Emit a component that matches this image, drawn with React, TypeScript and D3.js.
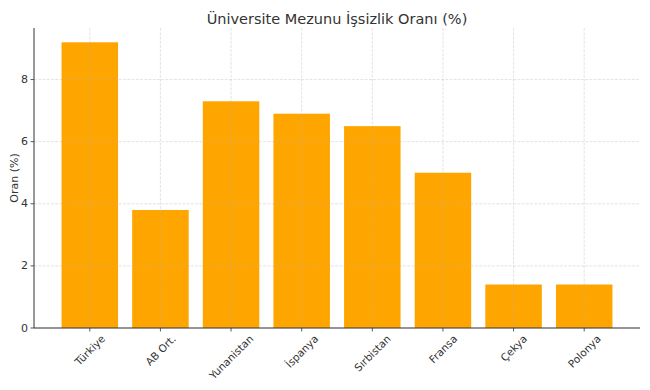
import React, { useEffect, useRef } from "react";
import * as d3 from "d3";

const categories: string[] = ["Türkiye", "AB Ort.", "Yunanistan", "İspanya", "Sırbistan", "Fransa", "Çekya", "Polonya"];
const values: number[] = [9.2, 3.8, 7.3, 6.9, 6.5, 5.0, 1.4, 1.4];
const yTicks: number[] = [0, 2, 4, 6, 8];
const title = "Üniversite Mezunu İşsizlik Oranı (%)";
const yLabel = "Oran (%)";

const W = 650;
const H = 390;
const left = 34, right = 640, top = 28, bottom = 328;
const FONT = "DejaVu Sans, sans-serif";
const TXT = "#333333";
const XTICK_FS = 10.5;
const YTICK_FS = 11;

export default function App() {
  const ref = useRef<SVGSVGElement | null>(null);
  useEffect(() => {
    const svg = d3.select(ref.current);
    svg.selectAll("*").remove();
    const n = categories.length;
    const x = d3.scaleLinear().domain([-0.4 - 0.05 * (n - 0.2), n - 1 + 0.4 + 0.05 * (n - 0.2)]).range([left, right]);
    const ymax = d3.max(values)! * 1.05;
    const y = d3.scaleLinear().domain([0, ymax]).range([bottom, top]);

    svg.append("rect").attr("width", W).attr("height", H).attr("fill", "white");

    // bars
    svg.append("g").selectAll("rect").data(values).join("rect")
      .attr("x", (_, i) => x(i - 0.4))
      .attr("width", x(0.4) - x(-0.4))
      .attr("y", (d) => y(d))
      .attr("height", (d) => bottom - y(d))
      .attr("fill", "#FFA500");

    // grid (on top)
    const grid = svg.append("g").attr("stroke", "#b0b0b0").attr("stroke-opacity", 0.45)
      .attr("stroke-width", 0.8).attr("stroke-dasharray", "2.96,1.28");
    grid.selectAll("line.v").data(categories).join("line").attr("class", "v")
      .attr("x1", (_, i) => x(i)).attr("x2", (_, i) => x(i))
      .attr("y1", top).attr("y2", bottom);
    grid.selectAll("line.h").data(yTicks).join("line").attr("class", "h")
      .attr("x1", left).attr("x2", right)
      .attr("y1", (d) => y(d)).attr("y2", (d) => y(d));

    // spines
    svg.append("line").attr("x1", left).attr("x2", left).attr("y1", top).attr("y2", bottom)
      .attr("stroke", "#333").attr("stroke-width", 1);
    svg.append("line").attr("x1", left).attr("x2", right).attr("y1", bottom).attr("y2", bottom)
      .attr("stroke", "#333").attr("stroke-width", 1);

    // y ticks
    const yg = svg.append("g");
    yTicks.forEach((t) => {
      yg.append("line").attr("x1", left - 3.5).attr("x2", left).attr("y1", y(t)).attr("y2", y(t))
        .attr("stroke", "#333").attr("stroke-width", 0.8);
      yg.append("text").attr("x", left - 6).attr("y", y(t)).attr("text-anchor", "end")
        .attr("dominant-baseline", "central").attr("font-family", FONT).attr("font-size", YTICK_FS)
        .attr("fill", TXT).text(String(t));
    });

    // x ticks and labels
    const xg = svg.append("g");
    categories.forEach((c, i) => {
      const cx = x(i);
      xg.append("line").attr("x1", cx).attr("x2", cx).attr("y1", bottom).attr("y2", bottom + 3.5)
        .attr("stroke", "#333").attr("stroke-width", 0.8);
      const t = xg.append("text").attr("text-anchor", "middle").attr("dominant-baseline", "central")
        .attr("font-family", FONT).attr("font-size", XTICK_FS).attr("fill", TXT).text(c);
      const L = (t.node() as SVGTextElement).getComputedTextLength();
      const h = (L + XTICK_FS) * Math.SQRT1_2;
      t.attr("transform", `translate(${cx},${bottom + 5 + h / 2}) rotate(-45)`);
    });

    // y label
    svg.append("text").attr("transform", `translate(14,${(top + bottom) / 2}) rotate(-90)`)
      .attr("text-anchor", "middle").attr("dominant-baseline", "central")
      .attr("font-family", FONT).attr("font-size", 11).attr("fill", TXT).text(yLabel);

    // title
    svg.append("text").attr("x", (left + right) / 2).attr("y", 24).attr("text-anchor", "middle")
      .attr("font-family", FONT).attr("font-size", 14.5).attr("fill", TXT).text(title);
  }, []);
  return <svg ref={ref} width={W} height={H} style={{ display: "block", position: "absolute", left: 0, top: 0 }} />;
}
